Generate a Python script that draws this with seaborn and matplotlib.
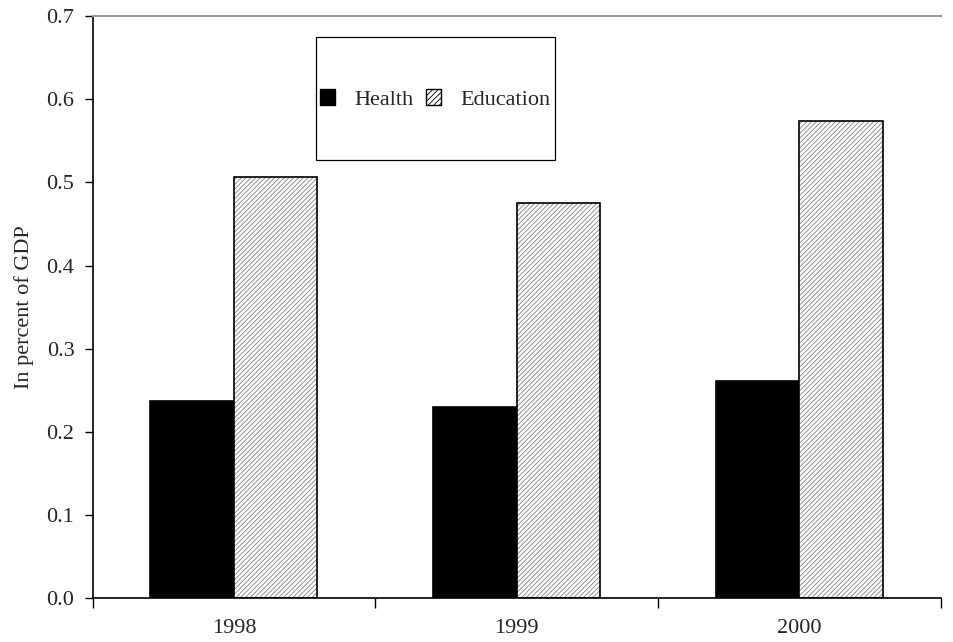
import numpy as np
import pandas as pd
import matplotlib
matplotlib.use("Agg")
import matplotlib.pyplot as plt
import seaborn as sns
from matplotlib.patches import Patch, Rectangle

sns.set_theme(style="white")
plt.rcParams['font.family'] = ['Liberation Serif', 'DejaVu Serif']
plt.rcParams['hatch.linewidth'] = 0.6

# ---- data ----
years = ['1998', '1999', '2000']
series = ['Health', 'Education']
health = [0.237, 0.230, 0.261]
education = [0.507, 0.475, 0.574]

df = pd.DataFrame({
    'Year': years * 2,
    'Series': ['Health'] * 3 + ['Education'] * 3,
    'Value': health + education,
})

fig, ax = plt.subplots(figsize=(9.54, 6.42), dpi=100)
fig.subplots_adjust(left=0.097, right=0.986, top=0.975, bottom=0.068)

sns.barplot(data=df, x='Year', y='Value', hue='Series', hue_order=series,
            palette=['black', 'white'], width=0.59, edgecolor='black',
            linewidth=1.0, ax=ax, legend=False)

# hatch the education bars (grey hatch, black outline on top)
for bar in ax.containers[1]:
    bar.set_hatch('///////')
    bar.set_edgecolor('#808080')
    bar.set_linewidth(0)
    ax.add_patch(Rectangle(bar.get_xy(), bar.get_width(), bar.get_height(),
                           fill=False, edgecolor='black', linewidth=1.2))
for bar in ax.containers[0]:
    bar.set_linewidth(1.2)

ax.set_ylim(0, 0.7)
ax.set_xlim(-0.5, 2.5)
ticks = np.arange(0, 0.71, 0.1)
ax.set_yticks(ticks)
ax.set_yticklabels([f'{v:.1f}' for v in ticks], fontsize=16)
ax.set_xticks([0, 1, 2])
ax.set_xticklabels(years, fontsize=16)
ax.tick_params(axis='x', length=0, pad=15)
ax.tick_params(axis='y', left=True, length=6, width=1, color='black',
               direction='out', pad=7)
# category boundary ticks on x-axis
ax.set_xticks([-0.5, 0.5, 1.5, 2.5], minor=True)
ax.tick_params(axis='x', which='minor', bottom=True, length=7, width=1,
               color='black', direction='out')

ax.set_xlabel('')
ax.set_ylabel('In percent of GDP', fontsize=16, labelpad=9)

for s in ['left', 'bottom']:
    ax.spines[s].set_color('black')
    ax.spines[s].set_linewidth(1.2)
ax.spines['top'].set_color('#999999')
ax.spines['top'].set_linewidth(1.5)
ax.spines['right'].set_visible(False)

# legend box (frame drawn separately to match the tall box)
ax.add_patch(Rectangle((0.263, 0.753), 0.282, 0.211, transform=ax.transAxes,
                       fill=False, edgecolor='black', linewidth=0.9, zorder=5))
handles = [Patch(facecolor='black', edgecolor='black', label='Health'),
           Patch(facecolor='white', edgecolor='black', hatch='//////', label='Education')]
leg = ax.legend(handles=handles, loc='center', bbox_to_anchor=(0.404, 0.857),
                ncol=2, fontsize=16, frameon=False,
                handlelength=0.7, handleheight=0.7, columnspacing=0.55,
                handletextpad=0.86, borderpad=0, borderaxespad=0)

fig.savefig('out.png', dpi=100)
